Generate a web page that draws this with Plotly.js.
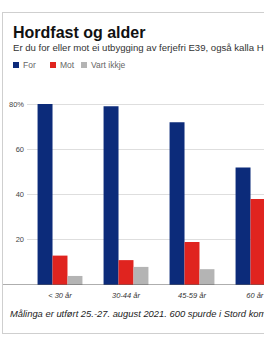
<!DOCTYPE html>
<html><head><meta charset="utf-8">
<script src="https://cdn.plot.ly/plotly-3.0.1.min.js"></script>
<style>
html,body{margin:0;padding:0;width:264px;height:338px;overflow:hidden;background:#fff;}
#frame{position:absolute;left:2px;top:12px;width:400px;height:322px;border:1px solid #cfcfcf;box-sizing:border-box;}
#chart{position:absolute;left:0;top:0;width:300px;height:338px;}
</style></head>
<body>
<div id="frame"></div>
<div id="chart"></div>
<script>
const categories = ["< 30 år", "30-44 år", "45-59 år", "60 år +"];
const forValues = [80, 79, 72, 52];
const motValues = [13, 11, 19, 38];
const vartIkkjeValues = [4, 8, 7, 10];
const seriesNames = ["For", "Mot", "Vart ikkje"];
const yTickVals = [20, 40, 60, 80];
const yTickText = ["20", "40", "60", "80%"];
const titleText = "Hordfast og alder";
const subtitleText = "Er du for eller mot ei utbygging av ferjefri E39, også kalla Hordfast?";
const footnoteText = "Målinga er utført 25.-27. august 2021. 600 spurde i Stord kommune.";

const colors = ["#0c2b7a", "#e0241f", "#b4b4b4"];
const FONT = "Liberation Sans, Arial, sans-serif";
const vals = [forValues, motValues, vartIkkjeValues];
const traces = seriesNames.map((n, i) => ({
  type: "bar", name: n, x: categories, y: vals[i],
  marker: {color: colors[i]}, hoverinfo: "none"
}));

// layout geometry (pixels)
const W = 300, H = 338, L = 27, R = 9, T = 95, B = 53;
const pw = W - L - R, ph = H - T - B;
const px = x => (x - L) / pw;
const py = y => (H - B - y) / ph;

const legendItems = [
  {x: 13, label: seriesNames[0], c: colors[0]},
  {x: 50, label: seriesNames[1], c: colors[1]},
  {x: 81, label: seriesNames[2], c: colors[2]}
];
const annotations = [
  {text: "<b>" + titleText + "</b>", x: px(11), y: py(32), xref: "paper", yref: "paper",
   xanchor: "left", yanchor: "middle", showarrow: false, font: {family: FONT, size: 16, color: "#111"}},
  {text: subtitleText, x: px(11), y: py(47), xref: "paper", yref: "paper",
   xanchor: "left", yanchor: "middle", showarrow: false, font: {family: FONT, size: 9.6, color: "#333"}},
  {text: footnoteText, x: px(8), y: py(313), xref: "paper", yref: "paper",
   xanchor: "left", yanchor: "middle", showarrow: false, font: {family: FONT, size: 9.4, color: "#222", style: "italic"}}
];
const shapes = [
  {type: "line", xref: "paper", yref: "y", x0: px(3), x1: 1.1, y0: 0, y1: 0, line: {color: "#5e5e5e", width: 1.2}}
];
legendItems.forEach(it => {
  shapes.push({type: "rect", xref: "paper", yref: "paper", x0: px(it.x), x1: px(it.x + 6),
    y0: py(68), y1: py(62), fillcolor: it.c, line: {width: 0}});
  annotations.push({text: it.label, x: px(it.x + 8), y: py(65), xref: "paper", yref: "paper",
    xanchor: "left", yanchor: "middle", showarrow: false, font: {family: FONT, size: 8.5, color: "#666"}});
});

const layout = {
  width: W, height: H,
  margin: {l: L, r: R, t: T, b: B, pad: 0},
  paper_bgcolor: "rgba(0,0,0,0)", plot_bgcolor: "rgba(0,0,0,0)",
  showlegend: false,
  barmode: "group", bargap: 0.32, bargroupgap: 0,
  font: {family: FONT},
  xaxis: {type: "category", range: [-0.5, 3.5], showgrid: false, showline: false, zeroline: false,
    ticks: "", ticklabelstandoff: 4,
    tickfont: {family: FONT, size: 7.5, color: "#333", style: "italic"}},
  yaxis: {range: [0, 84], tickvals: yTickVals, ticktext: yTickText, showline: false, zeroline: false,
    gridcolor: "#dedede", gridwidth: 1, ticks: "", ticklabelstandoff: 2,
    tickfont: {family: FONT, size: 7.5, color: "#444"}},
  annotations: annotations,
  shapes: shapes
};
Plotly.newPlot("chart", traces, layout, {staticPlot: true, displayModeBar: false});
</script>
</body></html>
